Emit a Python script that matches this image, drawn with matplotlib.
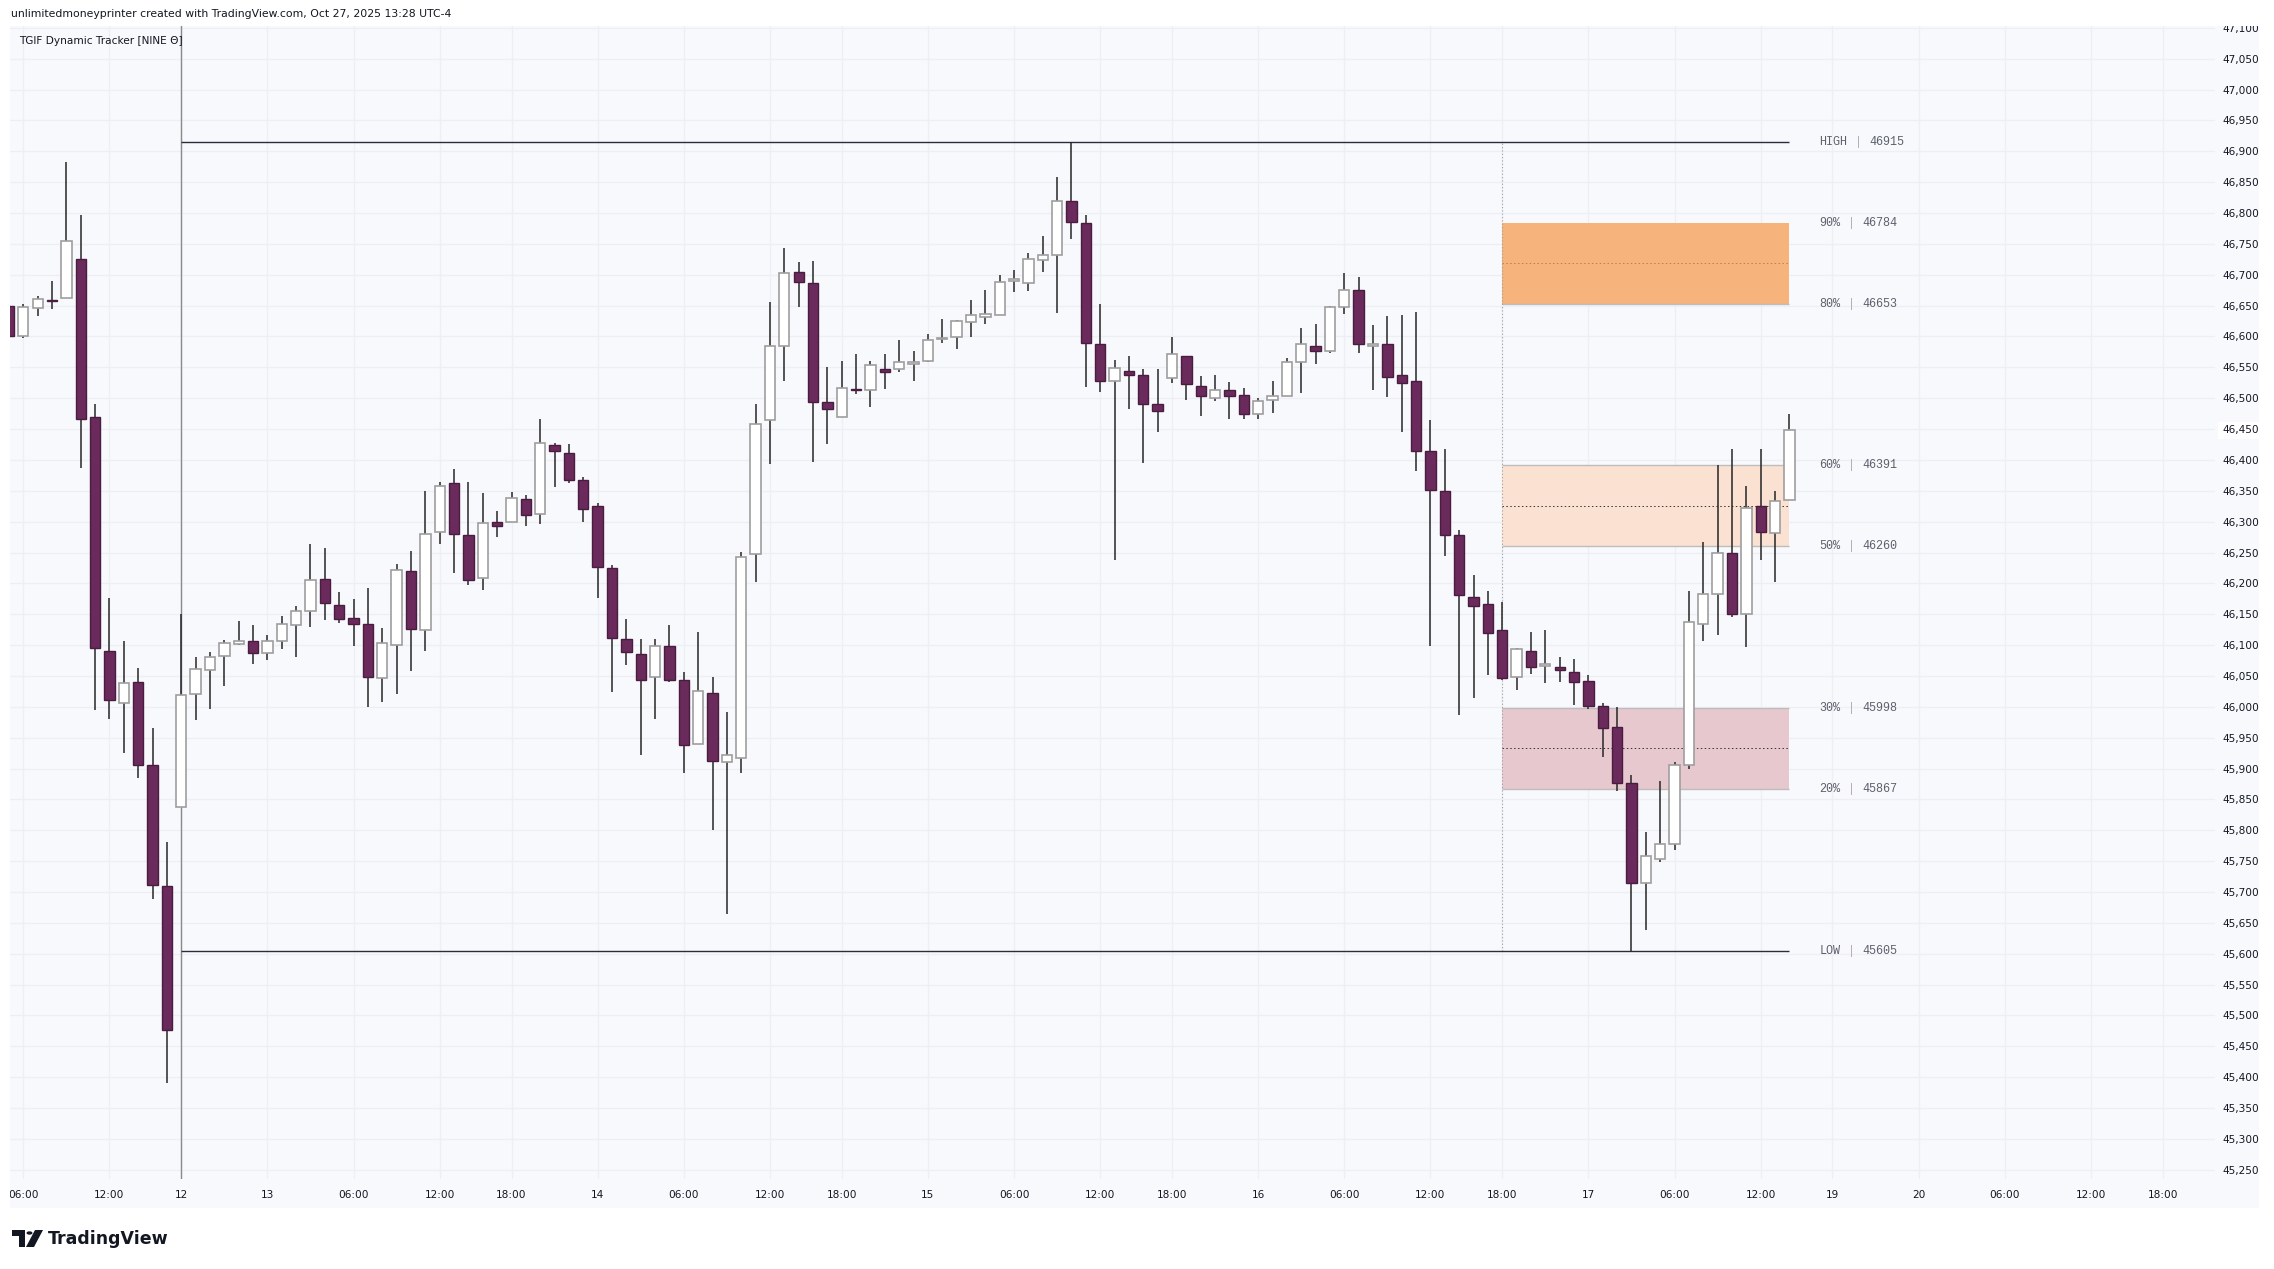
import numpy as np
import matplotlib.pyplot as plt
from matplotlib.patches import Rectangle, Polygon, Circle

# ---------------------------------------------------------------- data
# hourly bars (Oct 10 -> Oct 17)
opens = [46649, 46601, 46646, 46659, 46662, 46725, 46470, 46091, 46006, 46040,
         45905, 45710, 45838, 46020, 46059, 46082, 46102, 46107, 46087, 46106,
         46132, 46155, 46207, 46165, 46144, 46134, 46047, 46100, 46220, 46124,
         46284, 46363, 46279, 46208, 46299, 46299, 46337, 46313, 46424, 46411,
         46367, 46326, 46225, 46110, 46085, 46048, 46099, 46043, 45940, 46023,
         45911, 45917, 46247, 46464, 46584, 46704, 46687, 46494, 46469, 46515,
         46514, 46548, 46548, 46556, 46561, 46596, 46599, 46623, 46632, 46634,
         46690, 46686, 46724, 46732, 46820, 46784, 46588, 46528, 46544, 46537,
         46490, 46532, 46569, 46519, 46500, 46514, 46505, 46474, 46497, 46503,
         46559, 46585, 46577, 46648, 46676, 46584, 46588, 46538, 46528, 46414,
         46350, 46278, 46178, 46166, 46125, 46048, 46091, 46066, 46065, 46057,
         46042, 46002, 45967, 45876, 45715, 45753, 45778, 45906, 46134, 46183,
         46250, 46150, 46325, 46281, 46335]
highs = [46652, 46652, 46666, 46690, 46883, 46796, 46490, 46177, 46106, 46063,
         45966, 45781, 46150, 46081, 46088, 46108, 46139, 46133, 46116, 46147,
         46164, 46264, 46257, 46186, 46175, 46192, 46128, 46231, 46252, 46349,
         46365, 46385, 46365, 46346, 46317, 46348, 46343, 46467, 46428, 46425,
         46373, 46330, 46230, 46142, 46110, 46110, 46133, 46057, 46122, 46049,
         45992, 46251, 46491, 46656, 46743, 46721, 46723, 46551, 46561, 46572,
         46561, 46572, 46595, 46576, 46604, 46628, 46627, 46659, 46675, 46700,
         46708, 46735, 46762, 46859, 46915, 46797, 46652, 46562, 46568, 46547,
         46547, 46599, 46569, 46536, 46537, 46527, 46517, 46501, 46528, 46565,
         46613, 46620, 46650, 46703, 46697, 46618, 46633, 46635, 46639, 46465,
         46418, 46286, 46213, 46188, 46170, 46096, 46121, 46124, 46081, 46078,
         46052, 46006, 45999, 45889, 45797, 45879, 45910, 46187, 46267, 46392,
         46418, 46358, 46418, 46349, 46475]
lows = [46598, 46598, 46633, 46645, 46662, 46387, 45995, 45980, 45925, 45885,
        45689, 45390, 45838, 45979, 45997, 46033, 46100, 46069, 46076, 46094,
        46081, 46130, 46140, 46135, 46098, 46000, 46007, 46020, 46058, 46091,
        46263, 46216, 46197, 46189, 46275, 46299, 46293, 46296, 46356, 46363,
        46300, 46177, 46024, 46068, 45922, 45980, 46041, 45892, 45940, 45801,
        45665, 45893, 46203, 46394, 46528, 46648, 46397, 46425, 46469, 46506,
        46486, 46515, 46542, 46528, 46558, 46590, 46579, 46599, 46620, 46634,
        46672, 46673, 46705, 46638, 46758, 46518, 46510, 46238, 46483, 46395,
        46446, 46525, 46497, 46471, 46495, 46467, 46466, 46467, 46476, 46503,
        46508, 46555, 46574, 46637, 46573, 46513, 46502, 46446, 46382, 46099,
        46245, 45987, 46015, 46051, 46043, 46028, 46053, 46038, 46041, 46003,
        45996, 45918, 45863, 45605, 45639, 45749, 45768, 45899, 46106, 46117,
        46145, 46097, 46238, 46203, 46335]
closes = [46601, 46647, 46660, 46657, 46754, 46466, 46095, 46011, 46038, 45906,
          45711, 45477, 46019, 46062, 46081, 46104, 46107, 46087, 46107, 46134,
          46155, 46205, 46168, 46143, 46134, 46048, 46103, 46221, 46126, 46280,
          46358, 46280, 46205, 46298, 46293, 46339, 46310, 46427, 46415, 46367,
          46321, 46226, 46112, 46089, 46043, 46099, 46043, 45938, 46026, 45912,
          45922, 46243, 46459, 46584, 46703, 46688, 46494, 46482, 46516, 46514,
          46553, 46543, 46558, 46558, 46595, 46598, 46625, 46635, 46636, 46689,
          46693, 46726, 46732, 46819, 46786, 46590, 46528, 46549, 46538, 46490,
          46480, 46571, 46523, 46503, 46514, 46503, 46474, 46496, 46503, 46558,
          46587, 46577, 46647, 46676, 46587, 46587, 46535, 46525, 46415, 46352,
          46278, 46181, 46164, 46119, 46046, 46093, 46064, 46069, 46059, 46041,
          46001, 45965, 45877, 45714, 45758, 45778, 45906, 46137, 46183, 46250,
          46150, 46322, 46283, 46334, 46449]

# time axis (bar index -> label), future bars continue the session grid
tick_idx = [1, 7, 12, 18, 24, 30, 35, 41, 47, 53, 58, 64, 70, 76, 81, 87,
            93, 99, 104, 110, 116, 122, 127, 133, 139, 145, 150]
tick_lbl = ["06:00", "12:00", "12", "13", "06:00", "12:00", "18:00", "14",
            "06:00", "12:00", "18:00", "15", "06:00", "12:00", "18:00", "16",
            "06:00", "12:00", "18:00", "17", "06:00", "12:00", "19", "20",
            "06:00", "12:00", "18:00"]

# tracker levels
level_names = ["HIGH", "90%", "80%", "60%", "50%", "30%", "20%", "LOW"]
level_vals = [46915, 46784, 46653, 46391, 46260, 45998, 45867, 45605]
range_start = 12   # Sunday session open
zone_start = 104   # Thursday 18:00 session open
zone_end = 124     # last bar

# ---------------------------------------------------------------- figure
W, H = 2274, 1269
BG = '#F8F9FD'
BEAR = '#6A2A5B'
TXT = '#131722'

fig = plt.figure(figsize=(W / 100, H / 100), dpi=100, facecolor='white')


def fx(px):
    return px / W


def fy(py):
    return 1 - py / H


# pane background (chart + scales)
fig.add_artist(Rectangle((fx(10), fy(1208)), fx(2259) - fx(10), fy(26) - fy(1208),
                         transform=fig.transFigure, facecolor=BG, edgecolor='none', zorder=-10))

ax = fig.add_axes([fx(10), fy(1179), fx(2215) - fx(10), fy(26) - fy(1179)])
ax.set_facecolor(BG)
for s in ax.spines.values():
    s.set_visible(False)

ax.set_xlim(0.072, 153.64)
ax.set_ylim(45235, 47103)

# grid + ticks
yt = list(range(45250, 47101, 50))
ax.set_yticks(yt)
ax.set_yticklabels([f"{v:,}" for v in yt])
ax.yaxis.tick_right()
ax.tick_params(axis='y', length=0, pad=5, labelsize=7.6, labelcolor=TXT)
ax.set_xticks(tick_idx)
ax.set_xticklabels(tick_lbl)
ax.tick_params(axis='x', length=0, pad=8, labelsize=7.6, labelcolor=TXT)
ax.grid(True, color='#EDEFF5', lw=1)
ax.set_axisbelow(True)
for lab in ax.get_yticklabels():
    if lab.get_text() == "46,450":
        lab.set_bbox(dict(facecolor='white', edgecolor='none', pad=2.5))

# zones
lv = dict(zip(level_names, level_vals))
zones = [("90%", "80%", '#F6B37B', '#C97A3E'),
         ("60%", "50%", '#FAE1D2', '#333333'),
         ("30%", "20%", '#E7C8CE', '#333333')]
for top, bot, fc, mc in zones:
    ax.add_patch(Rectangle((zone_start, lv[bot]), zone_end - zone_start, lv[top] - lv[bot],
                           facecolor=fc, edgecolor='none', zorder=1))
    mid = (lv[top] + lv[bot]) / 2
    ax.hlines(mid, zone_start, zone_end, color=mc, lw=0.7, linestyles=(0, (1.5, 2.5)), zorder=1.5)
ax.hlines([lv["80%"], lv["60%"], lv["50%"], lv["30%"], lv["20%"]], zone_start, zone_end,
          color='#BDBDBD', lw=1, zorder=1.6)

# session lines
ax.axvline(range_start, color='#8a8a8a', lw=1, zorder=2)
ax.vlines(zone_start, lv["LOW"], lv["HIGH"], color='#A0A0A0', lw=0.8,
          linestyles=(0, (1, 2)), zorder=2)
ax.hlines([lv["HIGH"], lv["LOW"]], range_start, zone_end, color='#2A2E39', lw=1, zorder=2)

# candles
x = np.arange(len(opens))
o = np.array(opens, float)
c = np.array(closes, float)
up = c >= o
ax.vlines(x, lows, highs, color='#262626', lw=1.1, zorder=3)
bottom = np.minimum(o, c)
height = np.maximum(np.abs(c - o), 1.5)
ax.bar(x[up], height[up], 0.72, bottom=bottom[up], color='white', edgecolor='#9E9E9E',
       linewidth=1.2, zorder=4)
ax.bar(x[~up], height[~up], 0.72, bottom=bottom[~up], color=BEAR, edgecolor='#4A1D40',
       linewidth=1.0, zorder=4)

# level labels (monospace, faint separator)
fs = 8.5
cw = 0.6 * fs  # monospace advance in points
for name, val in zip(level_names, level_vals):
    ax.annotate(name, (126.1, val), xytext=(0, 0), textcoords='offset points',
                ha='left', va='center', family='Liberation Mono', fontsize=fs,
                color='#5D606B', zorder=5)
    ax.annotate("|", (126.1, val), xytext=((len(name) + 1) * cw, 0),
                textcoords='offset points', ha='left', va='center',
                family='Liberation Mono', fontsize=fs, color='#B9AEB3', zorder=5)
    ax.annotate(str(val), (126.1, val), xytext=((len(name) + 3) * cw, 0),
                textcoords='offset points', ha='left', va='center',
                family='Liberation Mono', fontsize=fs, color='#5D606B', zorder=5)

# header texts
fig.add_artist(Rectangle((0, fy(26)), 1, 26 / H, transform=fig.transFigure,
                         facecolor='white', edgecolor='none', zorder=5))
fig.add_artist(Rectangle((0, 0), fx(10), 1, transform=fig.transFigure,
                         facecolor='white', edgecolor='none', zorder=5))
fig.text(fx(11), fy(14), "unlimitedmoneyprinter created with TradingView.com, Oct 27, 2025 13:28 UTC-4",
         fontsize=7.8, color=TXT, va='center', ha='left', zorder=6)
fig.text(fx(19), fy(41), "TGIF Dynamic Tracker [NINE Θ]", fontsize=7.6, color=TXT,
         va='center', ha='left', zorder=6)

# TradingView logo
def px_poly(pts, **kw):
    fig.add_artist(Polygon([(fx(a), fy(b)) for a, b in pts], closed=True,
                           transform=fig.transFigure, **kw))

px_poly([(12, 1230), (25, 1230), (25, 1247), (19, 1247), (19, 1236), (12, 1236)],
        facecolor=TXT, edgecolor='none')
fig.add_artist(Circle((fx(29.5), fy(1233)), 3.0 / W, transform=fig.transFigure,
                      facecolor=TXT, edgecolor='none'))
px_poly([(35, 1230), (43, 1230), (34, 1247), (26, 1247)], facecolor=TXT, edgecolor='none')
fig.text(fx(48), fy(1238.5), "TradingView", fontsize=12.5, fontweight='bold', color=TXT,
         va='center', ha='left')

fig.savefig('out.png', dpi=100, facecolor='white')
